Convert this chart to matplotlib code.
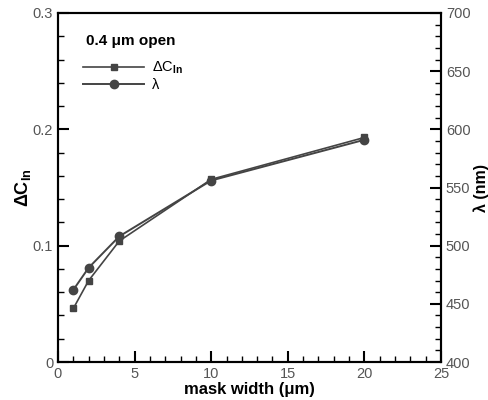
import matplotlib
matplotlib.use('Agg')
import matplotlib.pyplot as plt
from matplotlib.ticker import MultipleLocator

plt.rcParams['font.family'] = ['Liberation Sans', 'DejaVu Sans']
plt.rcParams['mathtext.fontset'] = 'custom'
plt.rcParams['mathtext.rm'] = 'Liberation Sans'
plt.rcParams['mathtext.it'] = 'Liberation Sans:italic'
plt.rcParams['mathtext.bf'] = 'Liberation Sans:bold'

# data
mask_width = [1, 2, 4, 10, 20]
delta_c = [0.046, 0.070, 0.104, 0.157, 0.193]
wavelength = [462, 481, 508, 556, 591]

line_col = '#444444'
tick_col = '#555555'

fig = plt.figure(figsize=(4.89, 4.0), dpi=100)
ax = fig.add_axes([0.1186, 0.095, 0.7832, 0.8725])
ax2 = ax.twinx()

h1, = ax.plot(mask_width, delta_c, color=line_col, lw=1.2, marker='s', ms=4,
              label=r'$\Delta$C$_{\mathbf{In}}$')
h2, = ax2.plot(mask_width, wavelength, color=line_col, lw=1.4, marker='o', ms=6,
               label='λ')

ax.set_xlim(0, 25)
ax.set_ylim(0, 0.3)
ax2.set_ylim(400, 700)

ax.xaxis.set_major_locator(MultipleLocator(5))
ax.xaxis.set_minor_locator(MultipleLocator(1))
ax.yaxis.set_major_locator(MultipleLocator(0.1))
ax.yaxis.set_minor_locator(MultipleLocator(0.02))
ax2.yaxis.set_major_locator(MultipleLocator(50))
ax2.yaxis.set_minor_locator(MultipleLocator(10))
ax.yaxis.set_major_formatter(plt.FuncFormatter(lambda v, p: '0' if v == 0 else f'{v:.1f}'))

for a in (ax, ax2):
    a.tick_params(which='major', direction='in', length=8, width=1.5,
                  labelsize=10.5, labelcolor=tick_col, color='black')
    a.tick_params(which='minor', direction='in', length=4, width=1, color='black')
    for s in a.spines.values():
        s.set_linewidth(1.5)
ax.tick_params(axis='both', which='both', top=False, right=False)
ax2.tick_params(axis='y', which='both', left=False)

ax.set_xlabel('mask width (μm)', fontsize=12, fontweight='bold', labelpad=1)
ax.set_ylabel(r'$\mathbf{\Delta C_{In}}$', fontsize=13, labelpad=0)
ax2.set_ylabel('λ (nm)', fontsize=11.5, fontweight='bold', labelpad=2)

ax.text(0.073, 0.92, '0.4 μm open', transform=ax.transAxes, fontsize=11,
        fontweight='bold', va='center')
ax.legend(handles=[h1, h2], loc='upper left', bbox_to_anchor=(0.05, 0.883),
          frameon=False, fontsize=10.5, handlelength=4.2, handletextpad=0.5,
          labelspacing=0.15, borderaxespad=0)

fig.savefig('out.png', dpi=100)
